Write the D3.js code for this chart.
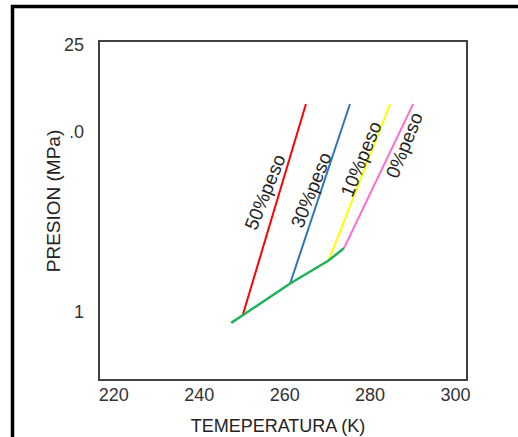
<!DOCTYPE html>
<html lang="es">
<head>
<meta charset="utf-8">
<style>
  body { margin: 0; background: white; }
  svg { font-family: 'Liberation Sans', Arial, sans-serif; }
  .tick text { fill: #333; font-size: 18px; }
  .serie-label { font-size: 19px; fill: #222; }
</style>
</head>
<body>
<div id="my_dataviz"></div>
<script src="https://d3js.org/d3.v7.min.js"></script>
<script>
// data
var series = ["50%peso", "30%peso", "10%peso", "0%peso"];
var colors = ["#ff0000", "#2e75b6", "#ffff00", "#ff6fcf"];
var tempLow  = [250.3, 261.4, 270.4, 274.0];
var presLow  = [0.96, 1.44, 1.93, 2.26];
var tempHigh = [265.1, 275.4, 284.8, 290.2];
var presHigh = [14.3, 14.3, 14.3, 14.3];
// hydrate line (green)
var hydTemp = [247.6, 250.3, 261.4, 270.4, 274.0];
var hydPres = [0.87, 0.96, 1.44, 1.93, 2.26];
// label anchors (temperature, pressure) for each series
var labelTemp = [255.5, 266.3, 278.0, 288.1];
var labelPres = [4.64, 4.76, 7.08, 8.45];

var xTicks = [220, 240, 260, 280, 300];
var yTickVals = [1, 10, 32];
var yTickLabels = ["1", "10.0", "25"];

var width = 518, height = 437;
var svg = d3.select("#my_dataviz").append("svg")
  .attr("width", width).attr("height", height);

// outer frame (top + left thick lines)
svg.append("path")
  .attr("d", "M12.5,437 L12.5,6.5 L518,6.5")
  .attr("fill", "none").attr("stroke", "black").attr("stroke-width", 3.5);

var x = d3.scaleLinear().domain([220, 300]).range([113.3, 455]);
var y = d3.scaleLog().domain([0.419, 32]).range([380, 41]);

// plot box
svg.append("rect")
  .attr("x", 99).attr("y", 41).attr("width", 368).attr("height", 339)
  .attr("fill", "none").attr("stroke", "#404040").attr("stroke-width", 2);

// x axis labels
var xAxis = svg.append("g")
  .attr("transform", "translate(0,388)")
  .call(d3.axisBottom(x).tickValues(xTicks).tickSize(0).tickPadding(0));
xAxis.select(".domain").remove();
xAxis.selectAll("text").attr("dy", "0.71em");

// y axis labels
var yAxis = svg.append("g")
  .attr("transform", "translate(84,0)")
  .call(d3.axisLeft(y).tickValues(yTickVals).tickSize(0).tickPadding(0)
    .tickFormat(function(d, i) { return yTickLabels[i]; }));
yAxis.select(".domain").remove();
yAxis.selectAll(".tick").filter(function(d) { return d === 32; })
  .select("text").attr("dy", "0.52em");

// series lines
var line = d3.line().x(function(d) { return x(d[0]); }).y(function(d) { return y(d[1]); });
series.forEach(function(s, i) {
  svg.append("path")
    .datum([[tempLow[i], presLow[i]], [tempHigh[i], presHigh[i]]])
    .attr("d", line)
    .attr("fill", "none").attr("stroke", colors[i]).attr("stroke-width", 2);
});

svg.append("path")
  .datum(hydTemp.map(function(t, i) { return [t, hydPres[i]]; }))
  .attr("d", line)
  .attr("fill", "none").attr("stroke", "#1fb25a").attr("stroke-width", 2.5);

// series labels
series.forEach(function(s, i) {
  var lx = x(labelTemp[i]), ly = y(labelPres[i]);
  svg.append("text")
    .attr("class", "serie-label")
    .attr("transform", "translate(" + lx + "," + ly + ")rotate(-68)")
    .attr("text-anchor", "middle")
    .attr("dy", "0.35em")
    .text(s);
});

// axis titles (white box hides part of the "10.0" label, as in the original)
var yTitle = svg.append("g").attr("transform", "translate(53,201)rotate(-90)");
yTitle.append("rect")
  .attr("x", -78).attr("y", -20).attr("width", 156).attr("height", 38)
  .attr("fill", "white");
yTitle.append("text")
  .attr("text-anchor", "middle").attr("dy", "0.35em")
  .style("font-size", "19px").attr("fill", "#222")
  .text("PRESION (MPa)");

svg.append("text")
  .attr("x", 278).attr("y", 426)
  .attr("text-anchor", "middle").attr("dy", "0.35em")
  .style("font-size", "18px").attr("fill", "#222")
  .text("TEMEPERATURA (K)");
</script>
</body>
</html>
